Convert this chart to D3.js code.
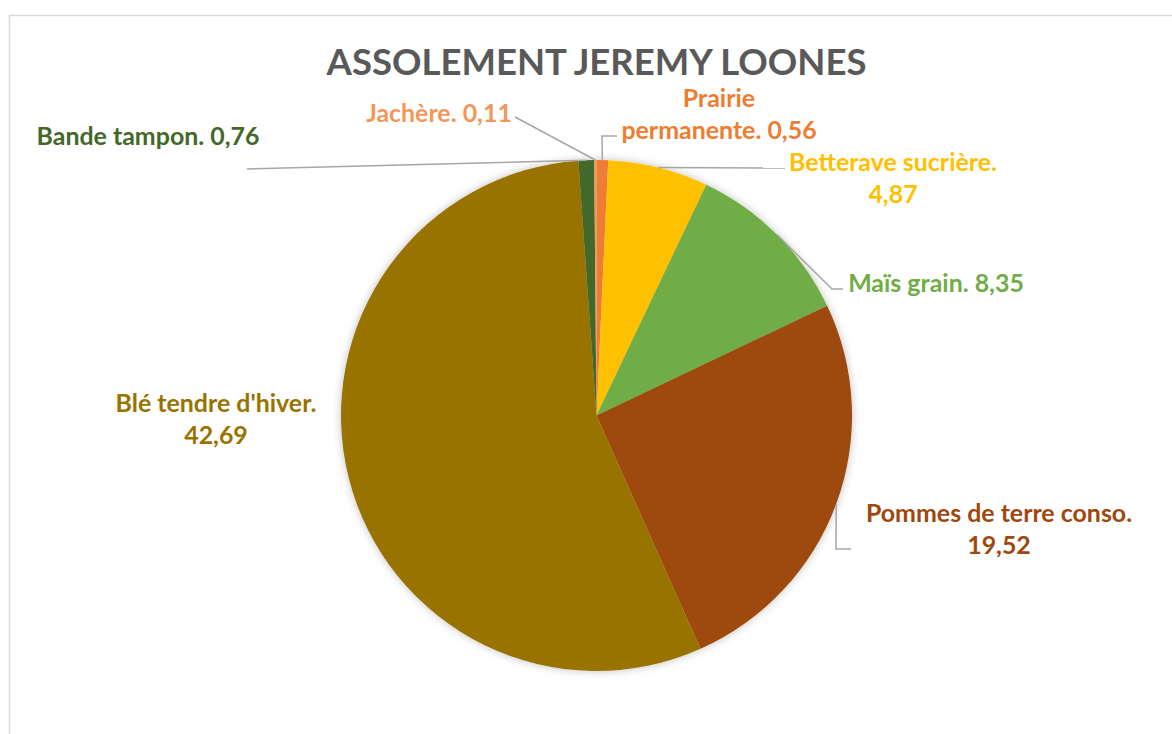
<!DOCTYPE html>
<html>
<head>
<meta charset="utf-8">
<script src="https://cdn.jsdelivr.net/npm/d3@7"></script>
<style>
  body { margin: 0; background: #fff; }
  svg { display: block; }
</style>
</head>
<body>
<svg id="chart" width="1172" height="734"></svg>
<script>
// data, in slice order (clockwise from 12 o'clock)
var crops = ["Prairie permanente", "Betterave sucrière", "Maïs grain", "Pommes de terre conso.", "Blé tendre d'hiver", "Bande tampon", "Jachère"];
var surfaces = [0.56, 4.87, 8.35, 19.52, 42.69, 0.76, 0.11];
var labelLines = [
  ["Prairie", "permanente. 0,56"],
  ["Betterave sucrière.", "4,87"],
  ["Maïs grain. 8,35"],
  ["Pommes de terre conso.", "19,52"],
  ["Blé tendre d'hiver.", "42,69"],
  ["Bande tampon. 0,76"],
  ["Jachère. 0,11"]
];
var colors = ["#ED7D31", "#FFC000", "#70AD47", "#9E480E", "#997300", "#43682B", "#F1975A"];

var width = 1172, height = 734,
  cx = 596.5, cy = 415.5, radius = 255.5;

// label placement (centre of first line) and leader routing
var labelPos = [
  {x: 719, y: 97, elbow: [602, 136], end: [617, 136]},
  {x: 893, y: 161, end: [785, 168]},
  {x: 936, y: 282, elbow: [832, 289], end: [843, 289]},
  {x: 999, y: 512, elbow: [836, 549], end: [851, 549]},
  {x: 216, y: 402, end: null},
  {x: 148, y: 135, end: [247, 169]},
  {x: 439, y: 112, end: [515, 117]}
];

var svg = d3.select("#chart");

// chart frame
svg.append("rect")
  .attr("x", 9.5).attr("y", 15.5)
  .attr("width", width).attr("height", height)
  .attr("fill", "#fff").attr("stroke", "#d9d9d9").attr("stroke-width", 1.5);

var defs = svg.append("defs");
var f = defs.append("filter").attr("id", "shadow")
  .attr("x", "-10%").attr("y", "-10%").attr("width", "120%").attr("height", "120%");
f.append("feDropShadow").attr("dx", 0).attr("dy", 0).attr("stdDeviation", 4)
  .attr("flood-color", "#000").attr("flood-opacity", 0.25);

// title
var fontFam = "Lato, 'Open Sans', sans-serif";
var title = svg.append("text")
  .attr("x", cx).attr("y", 61)
  .attr("text-anchor", "middle").attr("dominant-baseline", "central")
  .attr("font-family", fontFam).attr("font-weight", "bold")
  .attr("font-size", 36).attr("fill", "#595959")
  .text("ASSOLEMENT JEREMY LOONES");
var tw = title.node().getComputedTextLength();
title.attr("font-size", 36 * 540 / tw);

var pie = d3.pie().sort(null).value(function(d) { return d; });
var arcs = pie(surfaces);
var arc = d3.arc().innerRadius(0).outerRadius(radius);
var edge = d3.arc().innerRadius(radius).outerRadius(radius);

var g = svg.append("g").attr("transform", "translate(" + cx + "," + cy + ")");
g.append("g").attr("filter", "url(#shadow)")
  .selectAll("path").data(arcs).enter().append("path")
  .attr("d", arc)
  .attr("fill", function(d, i) { return colors[i]; });

// leader lines
arcs.forEach(function(d, i) {
  var p = labelPos[i];
  if (!p.end) return;
  var c = edge.centroid(d);
  var pts = [[cx + c[0], cy + c[1]]];
  if (p.elbow) pts.push(p.elbow);
  pts.push(p.end);
  svg.append("path")
    .attr("d", d3.line()(pts))
    .attr("fill", "none").attr("stroke", "#A6A6A6").attr("stroke-width", 1.5);
});

// labels
var labelSize = 20;
var probe = svg.append("text").attr("font-family", fontFam).attr("font-weight", "bold")
  .attr("font-size", 20).text("Bande tampon. 0,76");
labelSize = 20 * 223 / probe.node().getComputedTextLength();
probe.remove();

labelLines.forEach(function(lines, i) {
  var t = svg.append("text")
    .attr("text-anchor", "middle")
    .attr("font-family", fontFam).attr("font-weight", "bold")
    .attr("font-size", labelSize).attr("fill", colors[i]);
  lines.forEach(function(s, j) {
    t.append("tspan")
      .attr("x", labelPos[i].x)
      .attr("y", labelPos[i].y + j * 32)
      .attr("dominant-baseline", "central")
      .text(s);
  });
});
</script>
</body>
</html>
